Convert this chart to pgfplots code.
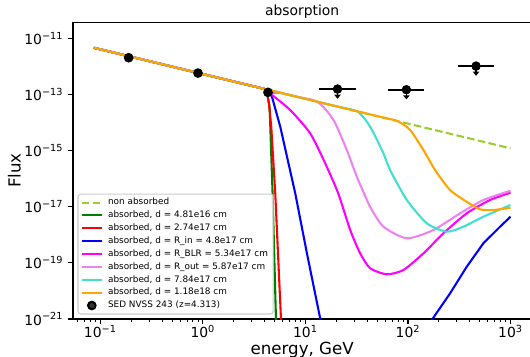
\documentclass[border=0pt]{standalone}
\usepackage{pgfplots}
\pgfplotsset{compat=1.18}
\usepackage{fontspec}
\setmainfont{DejaVu Sans}
\usetikzlibrary{arrows.meta}
\definecolor{ygreen}{HTML}{9ACD32}
\definecolor{mgreen}{HTML}{008000}
\definecolor{mred}{HTML}{FF0000}
\definecolor{mblue}{HTML}{0000FF}
\definecolor{mmagenta}{HTML}{FF00FF}
\definecolor{mviolet}{HTML}{EE82EE}
\definecolor{turq}{HTML}{40E0D0}
\definecolor{morange}{HTML}{FFA500}
\definecolor{legframe}{HTML}{CCCCCC}
\pgfplotsset{
  lineleg/.style={legend image code/.code={\draw[##1] (0pt,0pt) -- (14.4pt,0pt); \path (16.4pt,0pt);}},
  markleg/.style={legend image code/.code={\path (0pt,0pt) (16.4pt,0pt); \draw[##1] plot coordinates {(7.2pt,0pt)};}},
}
\begin{document}
\begin{tikzpicture}
\begin{axis}[
  scale only axis, width=330pt, height=213.8pt,
  xmode=log, ymode=log,
  xmin=0.0542, xmax=1596, ymin=1e-21, ymax=3.72e-11,
  xtick={0.1,1,10,100,1000},
  xticklabels={10\textsuperscript{−1},10\textsuperscript{0},10\textsuperscript{1},10\textsuperscript{2},10\textsuperscript{3}},
  minor xtick={0.06,0.07,0.08,0.09,0.2,0.3,0.4,0.5,0.6,0.7,0.8,0.9,2,3,4,5,6,7,8,9,20,30,40,50,60,70,80,90,200,300,400,500,600,700,800,900},
  ytick={1e-21,1e-19,1e-17,1e-15,1e-13,1e-11},
  yticklabels={10\textsuperscript{−21},10\textsuperscript{−19},10\textsuperscript{−17},10\textsuperscript{−15},10\textsuperscript{−13},10\textsuperscript{−11}},
  xtick pos=bottom, ytick pos=left,
  tick align=outside,
  major tick length=3.5pt, minor tick length=2pt,
  every tick/.append style={black, line width=0.8pt},
  every minor tick/.append style={black, line width=0.6pt},
  axis line style={line width=0.8pt},
  tick label style={font=\fontsize{10}{12}\selectfont},
  xticklabel style={yshift=2.2pt},
  xlabel={energy, GeV}, ylabel={Flux}, title={absorption},
  xlabel style={at={(axis description cs:0.5,0)}, anchor=base, yshift=-25.2pt, font=\fontsize{12}{14}\selectfont},
  ylabel style={at={(axis description cs:-0.1276,0.5)}, anchor=center, font=\fontsize{12}{14}\selectfont},
  every axis title shift=0pt,
  title style={at={(axis description cs:0.5,1)}, anchor=base, yshift=5pt, font=\fontsize{10}{12}\selectfont},
  legend cell align=left,
  legend style={at={(0,0)}, anchor=south west, xshift=3.2pt, yshift=3.2pt,
    font=\fontsize{6.4}{7.7}\selectfont, draw=legframe, line width=0.8pt,
    rounded corners=2pt, fill=white, fill opacity=0.8, text opacity=1,
    inner xsep=2pt, inner ysep=1.5pt,
    nodes={inner xsep=1.75pt, inner ysep=1.45pt, text depth=0.15em}},
  lineleg,
  every axis plot/.append style={line width=1.5pt},
]
% non absorbed
\addplot[ygreen, dash pattern=on 5.5pt off 2.4pt] coordinates {(0.0865,4.52e-12) (1000,1.19e-15)};
\addlegendentry{non absorbed}
% d = 4.81e16
\addplot[mgreen] coordinates {(0.0865,4.52e-12) (4.169,1.486e-13) (4.477,3.59e-14) (4.786,2.97e-17) (5.164,1e-21) (5.248,1.26e-22)};
\addlegendentry{absorbed, d = 4.81e16 cm}
% d = 2.74e17
\addplot[mred] coordinates {(0.0865,4.52e-12) (4.169,1.486e-13) (4.416,4.47e-14) (4.645,6.97e-15) (5.082,2.97e-17) (5.781,1e-21) (5.957,1e-22)};
\addlegendentry{absorbed, d = 2.74e17 cm}
% R_in
\addplot[mblue] coordinates {(0.0865,4.52e-12) (4.315,1.44e-13) (4.721,8.15e-14) (5.689,6.97e-15) (7.962,2.97e-17) (10.35,2.18e-19) (13.93,1.06e-21) (14.45,5.01e-22) (151.4,4.9e-22) (170.6,9.2e-22) (257.6,8.22e-21) (374.1,7.26e-20) (543.3,4.94e-19) (790.7,1.93e-18) (1000,4.38e-18)};
\addlegendentry{absorbed, d = R\_in = 4.8e17 cm}
% R_BLR
\addplot[mmagenta, smooth, tension=0.4] coordinates {(0.0865,4.52e-12) (4.315,1.44e-13) (4.539,1.076e-13) (7.112,2.74e-14) (11.14,4.06e-15) (15.6,3.48e-16) (20.89,2.97e-17) (27.35,1.47e-18) (34.2,2.18e-19) (42.85,6.37e-20) (62.2,3.90e-20) (90.3,5.55e-20) (141.6,2.18e-19) (221.3,1.12e-18) (374.1,5.78e-18) (631,1.72e-17) (1000,3.13e-17)};
\addlegendentry{absorbed, d = R\_BLR = 5.34e17 cm}
% R_out
\addplot[mviolet, smooth, tension=0.4] coordinates {(0.0865,4.52e-12) (6.31,1.03e-13) (12.94,5.48e-14) (18.79,1.21e-14) (25.35,1.03e-15) (31.77,1.16e-16) (42.76,9.91e-18) (57.68,1.93e-18) (97.5,7.45e-19) (177.0,1.47e-18) (322.1,5.78e-18) (543.3,1.72e-17) (1000,3.68e-17)};
\addlegendentry{absorbed, d = R\_out = 5.87e17 cm}
% 7.84e17
\addplot[turq, smooth, tension=0.4] coordinates {(0.0865,4.52e-12) (15.85,4.58e-14) (31.77,2.48e-14) (42.76,6.97e-15) (57.68,7.89e-16) (66.99,2.0e-16) (97.5,1.72e-17) (152.8,2.55e-18) (238.8,1.28e-18) (346.7,1.93e-18) (543.3,4.38e-18) (1000,1.14e-17)};
\addlegendentry{absorbed, d = 7.84e17 cm}
% 1.18e18
\addplot[morange, smooth, tension=0.4] coordinates {(0.0865,4.52e-12) (39.81,2.04e-14) (77.8,1.13e-14) (105.0,5.32e-15) (141.6,1.03e-15) (184.1,2.0e-16) (257.6,3.90e-17) (374.1,1.49e-17) (504.7,8.02e-18) (679.2,7.57e-18) (1000,9.14e-18)};
\addlegendentry{absorbed, d = 1.18e18 cm}
% SED points
\addplot[only marks, mark=*, mark size=2.7pt, black, markleg]
  coordinates {(0.189,2.0e-12) (0.897,5.68e-13) (4.315,1.17e-13)};
\addlegendentry{SED NVSS 243 (z=4.313)}
% upper limits: horizontal bars
\addplot[only marks, mark=*, mark size=2.5pt, black, forget plot,
  error bars/.cd, x dir=both, x explicit, error mark=none,
  error bar style={line width=1.5pt, black}]
  coordinates {
  (20.56,1.53e-13) += (10.28,0) -= (6.85,0)
  (96.6,1.45e-13) += (48.3,0) -= (32.2,0)
  (461.3,1.007e-12) += (230.7,0) -= (153.8,0)
  };
% upper limits: arrows
\addplot[only marks, mark=*, mark size=2.5pt, black, forget plot,
  error bars/.cd, y dir=minus, y explicit relative, error mark=none,
  error bar style={line width=1.2pt, black, -{Triangle[length=3pt,width=4.5pt]}}]
  coordinates {
  (20.56,1.53e-13) -= (0,0.55)
  (96.6,1.45e-13) -= (0,0.55)
  (461.3,1.007e-12) -= (0,0.55)
  };
\end{axis}
\pgfresetboundingbox
\path ([shift={(-52.56pt,-26.64pt)}]current axis.south west) rectangle ([shift={(329.04pt,229.68pt)}]current axis.south west);
\end{tikzpicture}
\end{document}
